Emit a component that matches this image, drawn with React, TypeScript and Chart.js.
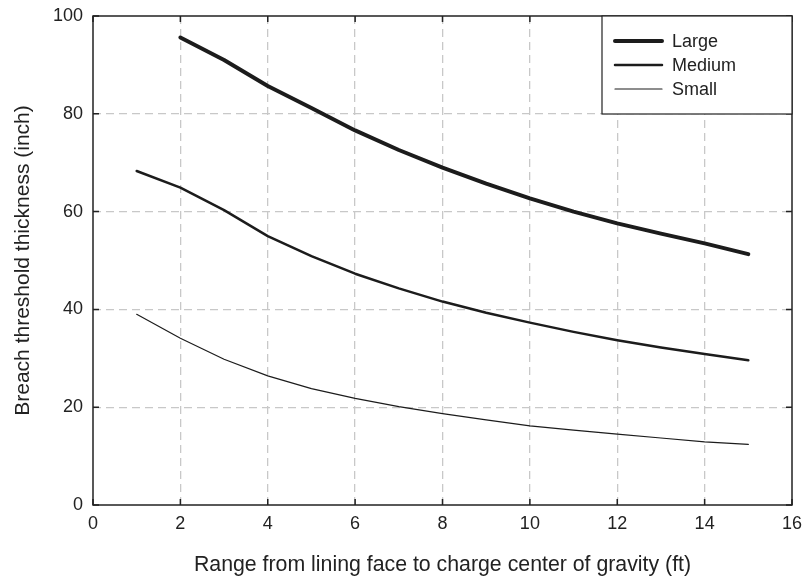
import React, { useEffect, useRef } from "react";
import { Chart, registerables } from "chart.js";

Chart.register(...registerables);

const xLarge = [2, 3, 4, 5, 6, 7, 8, 9, 10, 11, 12, 13, 14, 15];
const largeValues = [95.6, 91.0, 85.7, 81.2, 76.6, 72.6, 69.0, 65.7, 62.7, 60.0, 57.6, 55.5, 53.5, 51.3];
const xAll = [1, 2, 3, 4, 5, 6, 7, 8, 9, 10, 11, 12, 13, 14, 15];
const mediumValues = [68.3, 64.9, 60.3, 55.0, 50.9, 47.3, 44.3, 41.6, 39.3, 37.3, 35.4, 33.7, 32.2, 30.9, 29.6];
const smallValues = [39.0, 34.1, 29.8, 26.4, 23.8, 21.8, 20.1, 18.7, 17.4, 16.2, 15.3, 14.5, 13.7, 12.9, 12.4];
const seriesNames = ["Large", "Medium", "Small"];
const seriesWidths = [4, 2.5, 1.2];
const xTicks = [0, 2, 4, 6, 8, 10, 12, 14, 16];
const yTicks = [0, 20, 40, 60, 80, 100];

const LINE = "#1c1c1c";
const FONT = "'Liberation Sans', Arial, sans-serif";

const frame = {
  id: "frame",
  afterDatasetsDraw(chart: any) {
    const { ctx, chartArea: a, scales } = chart;
    ctx.save();
    ctx.strokeStyle = "#222";
    ctx.lineWidth = 1.5;
    ctx.strokeRect(a.left, a.top, a.right - a.left, a.bottom - a.top);
    const tl = 6;
    for (const v of xTicks) {
      const x = scales.x.getPixelForValue(v);
      ctx.beginPath();
      ctx.moveTo(x, a.bottom);
      ctx.lineTo(x, a.bottom - tl);
      ctx.moveTo(x, a.top);
      ctx.lineTo(x, a.top + tl);
      ctx.stroke();
    }
    for (const v of yTicks) {
      const y = scales.y.getPixelForValue(v);
      ctx.beginPath();
      ctx.moveTo(a.left, y);
      ctx.lineTo(a.left + tl, y);
      ctx.moveTo(a.right, y);
      ctx.lineTo(a.right - tl, y);
      ctx.stroke();
    }
    // legend
    const bx = 602, by = a.top, bw = a.right - 602, bh = 98;
    ctx.fillStyle = "#fff";
    ctx.fillRect(bx, by, bw, bh);
    ctx.strokeStyle = "#222";
    ctx.lineWidth = 1.2;
    ctx.strokeRect(bx, by, bw, bh);
    ctx.font = `18px ${FONT}`;
    ctx.textBaseline = "middle";
    ctx.textAlign = "left";
    seriesNames.forEach((name, i) => {
      const y = by + 25 + i * 24;
      ctx.strokeStyle = LINE;
      ctx.lineWidth = seriesWidths[i];
      ctx.lineCap = "round";
      ctx.beginPath();
      ctx.moveTo(bx + 13, y);
      ctx.lineTo(bx + 60, y);
      ctx.stroke();
      ctx.fillStyle = "#222";
      ctx.fillText(name, bx + 70, y + 1);
    });
    ctx.restore();
  },
};

export default function App() {
  const ref = useRef<HTMLCanvasElement>(null);
  useEffect(() => {
    if (!ref.current) return;
    const mk = (xs: number[], ys: number[]) => xs.map((x, i) => ({ x, y: ys[i] }));
    const chart = new Chart(ref.current, {
      type: "line",
      data: {
        datasets: [
          { label: seriesNames[0], data: mk(xLarge, largeValues), borderWidth: seriesWidths[0] },
          { label: seriesNames[1], data: mk(xAll, mediumValues), borderWidth: seriesWidths[1] },
          { label: seriesNames[2], data: mk(xAll, smallValues), borderWidth: seriesWidths[2] },
        ].map((d) => ({
          ...d,
          borderColor: LINE,
          backgroundColor: LINE,
          pointRadius: 0,
          tension: 0,
          fill: false,
          borderCapStyle: "round" as const,
          borderJoinStyle: "round" as const,
        })),
      },
      options: {
        animation: false,
        responsive: false,
        layout: { padding: { left: 0, right: 10, top: 16, bottom: 0 } },
        plugins: { legend: { display: false }, tooltip: { enabled: false } },
        scales: {
          x: {
            type: "linear",
            min: 0,
            max: 16,
            afterBuildTicks: (s: any) => {
              s.ticks = xTicks.map((v) => ({ value: v }));
            },
            afterFit: (s: any) => {
              s.height = 74;
              s.paddingLeft = 0;
              s.paddingRight = 0;
            },
            grid: {
              color: (c: any) => (c.tick && (c.tick.value === 0 || c.tick.value === 16) ? "rgba(0,0,0,0)" : "#c8c8c8"),
              lineWidth: 1.3,
              drawTicks: false,
            },
            border: { display: false, dash: [8, 5] },
            ticks: { color: "#222", font: { family: FONT, size: 18 }, padding: 8, maxRotation: 0 },
            title: {
              display: true,
              text: "Range from lining face to charge center of gravity (ft)",
              color: "#222",
              font: { family: FONT, size: 21.3 },
              padding: { top: 10, bottom: 1 },
            },
          },
          y: {
            type: "linear",
            min: 0,
            max: 100,
            afterBuildTicks: (s: any) => {
              s.ticks = yTicks.map((v) => ({ value: v }));
            },
            afterFit: (s: any) => {
              s.width = 93;
              s.paddingTop = 0;
              s.paddingBottom = 0;
            },
            grid: {
              color: (c: any) => (c.tick && (c.tick.value === 0 || c.tick.value === 100) ? "rgba(0,0,0,0)" : "#c8c8c8"),
              lineWidth: 1.3,
              drawTicks: false,
            },
            border: { display: false, dash: [8, 5] },
            ticks: { color: "#222", font: { family: FONT, size: 18 }, padding: 10 },
            title: {
              display: true,
              text: "Breach threshold thickness (inch)",
              color: "#222",
              font: { family: FONT, size: 21 },
              padding: { top: 11, bottom: 0 },
            },
          },
        },
      },
      plugins: [frame],
    });
    return () => chart.destroy();
  }, []);
  return (
    <div style={{ position: "fixed", left: 0, top: 0, width: 802, height: 579, background: "#fff" }}>
      <canvas ref={ref} width={802} height={579} style={{ width: 802, height: 579 }} />
    </div>
  );
}
